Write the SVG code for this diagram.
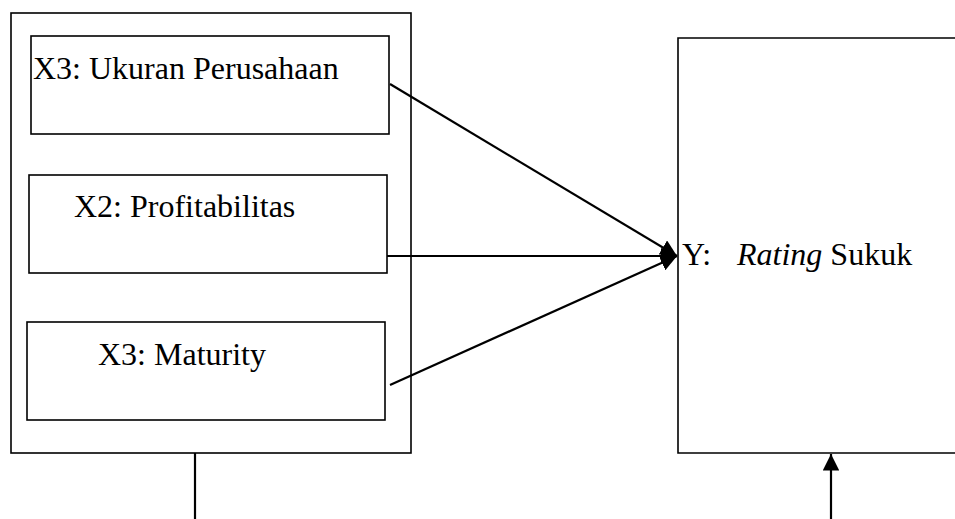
<svg xmlns="http://www.w3.org/2000/svg" width="955" height="519" viewBox="0 0 955 519">
<defs>
<style>
.box{fill:none;stroke:#000;stroke-width:1.6}
.lbl{font-family:"Liberation Serif","Times New Roman",serif;font-size:32px;fill:#000}
.con{fill:none;stroke:#000;stroke-width:2.2}
</style>
<marker id="ah" viewBox="0 0 10 10" refX="10" refY="5" markerWidth="7.5" markerHeight="7.5" markerUnits="strokeWidth" orient="auto">
<path d="M0,0 L10,5 L0,10 z" fill="#000"/>
</marker>
</defs>
<rect width="955" height="519" fill="#fff"/>
<g id="group-x">
<rect class="box" x="11" y="13" width="400" height="440"/>
</g>
<g id="x3-ukuran">
<rect class="box" x="31" y="36" width="358" height="98"/>
<text class="lbl" x="33" y="79">X3: Ukuran Perusahaan</text>
</g>
<g id="x2-profit">
<rect class="box" x="29" y="175" width="358" height="98"/>
<text class="lbl" x="74" y="217">X2: Profitabilitas</text>
</g>
<g id="x3-maturity">
<rect class="box" x="27" y="322" width="358" height="98"/>
<text class="lbl" x="98" y="365">X3: Maturity</text>
</g>
<g id="y-rating">
<path class="box" d="M960,38 H678 V453 H960"/>
<text class="lbl" x="682" y="265">Y:<tspan x="737" font-style="italic">Rating</tspan> Sukuk</text>
</g>
<g id="connectors">
<line class="con" x1="390" y1="84" x2="677" y2="256" marker-end="url(#ah)"/>
<line class="con" x1="387" y1="256" x2="677" y2="256" marker-end="url(#ah)"/>
<line class="con" x1="390" y1="385" x2="677" y2="256" marker-end="url(#ah)"/>
<line class="con" x1="195" y1="453" x2="195" y2="519"/>
<line class="con" x1="831" y1="519" x2="831" y2="454" marker-end="url(#ah)"/>
</g>
</svg>
